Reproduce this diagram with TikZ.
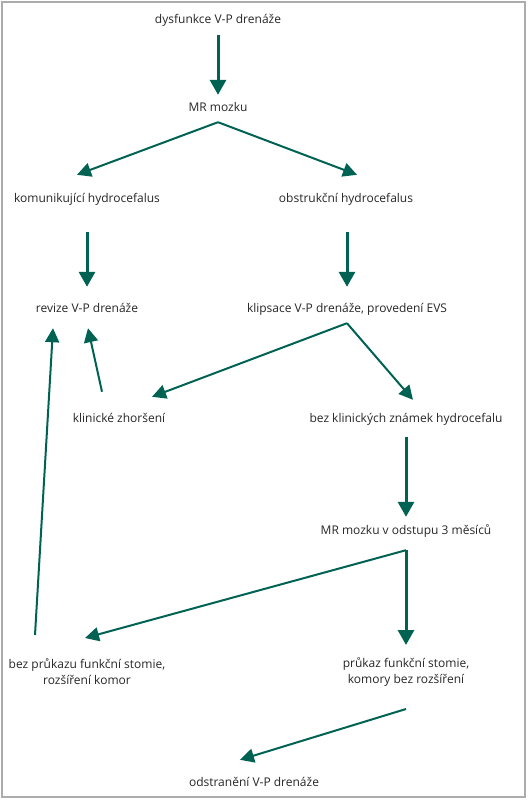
\documentclass[tikz,border=0pt]{standalone}
\usepackage{fontspec}
\setmainfont{Open Sans}
\usetikzlibrary{arrows.meta}
\definecolor{vpgreen}{RGB}{0,98,82}
\tikzset{
  lbl/.style={font=\fontsize{12}{16}\selectfont, text=black!85, inner sep=0pt, text height=10pt, text depth=1pt},
  lbltwo/.style={font=\fontsize{12}{16}\selectfont, text=black!85, inner sep=0pt, align=center},
  arr/.style={draw=vpgreen, line width=2pt, -{Triangle[length=14pt,width=14pt]}, fill=vpgreen},
  arrthick/.style={arr, line width=3pt, -{Triangle[length=15pt,width=16pt]}}
}
\begin{document}
\begin{tikzpicture}[x=1pt,y=-1pt]
    \useasboundingbox (0,0) rectangle (528,800);
    \draw[gray!65, line width=1.5pt] (2,2) rectangle (525,797);

    \node[lbl] (dys) at (218,19) {dysfunkce V-P drenáže};
    \node[lbl] (mr) at (218,107) {MR mozku};
    \node[lbl] (kom) at (87,198) {komunikující hydrocefalus};
    \node[lbl] (obs) at (346,198) {obstrukční hydrocefalus};
    \node[lbl] (rev) at (87,308) {revize V-P drenáže};
    \node[lbl] (kli) at (347,308) {klipsace V-P drenáže, provedení EVS};
    \node[lbl] (zhor) at (119,418) {klinické zhoršení};
    \node[lbl] (bez) at (406,418) {bez klinických známek hydrocefalu};
    \node[lbl] (mr3) at (406,530) {MR mozku v odstupu 3 měsíců};
    \node[lbltwo] (neg) at (87,672) {bez průkazu funkční stomie,\\rozšíření komor};
    \node[lbltwo] (poz) at (406,672) {průkaz funkční stomie,\\komory bez rozšíření};
    \node[lbl] (odst) at (254,782) {odstranění V-P drenáže};

    \draw[arrthick] ([yshift=-10.5pt]dys.south) -- ([yshift=6.5pt]mr.north);
    \draw[arr] ([yshift=-9.5pt]mr.south) -- ([xshift=-10pt,yshift=17.5pt]kom.north);
    \draw[arr] ([yshift=-9.5pt]mr.south) -- ([xshift=11pt,yshift=17.5pt]obs.north);
    \draw[arrthick] ([yshift=-28.5pt]kom.south) -- ([yshift=15.5pt]rev.north);
    \draw[arrthick] ([xshift=1pt,yshift=-28.5pt]obs.south) -- ([yshift=15.5pt]kli.north);
    \draw[arr] ([yshift=-9.5pt]kli.south) -- ([xshift=33pt,yshift=15.5pt]zhor.north);
    \draw[arr] ([yshift=-9.5pt]kli.south) -- ([xshift=7pt,yshift=12.5pt]bez.north);
    \draw[arr] ([xshift=-17pt,yshift=20.5pt]zhor.north) -- ([xshift=1pt,yshift=-14.5pt]rev.south);
    \draw[arr] ([xshift=-52pt,yshift=37pt]neg.center) -- ([xshift=-34pt,yshift=-14.5pt]rev.south);
    \draw[arrthick] ([yshift=-13.5pt]bez.south) -- ([yshift=7.5pt]mr3.north);
    \draw[arr] ([yshift=-14.5pt]mr3.south) -- ([xshift=-2pt,yshift=34pt]neg.center);
    \draw[arrthick] ([yshift=-14.5pt]mr3.south) -- ([yshift=27pt]poz.center);
    \draw[arr] ([yshift=-37pt]poz.center) -- ([xshift=-14pt,yshift=16.5pt]odst.north);
\end{tikzpicture}
\end{document}
